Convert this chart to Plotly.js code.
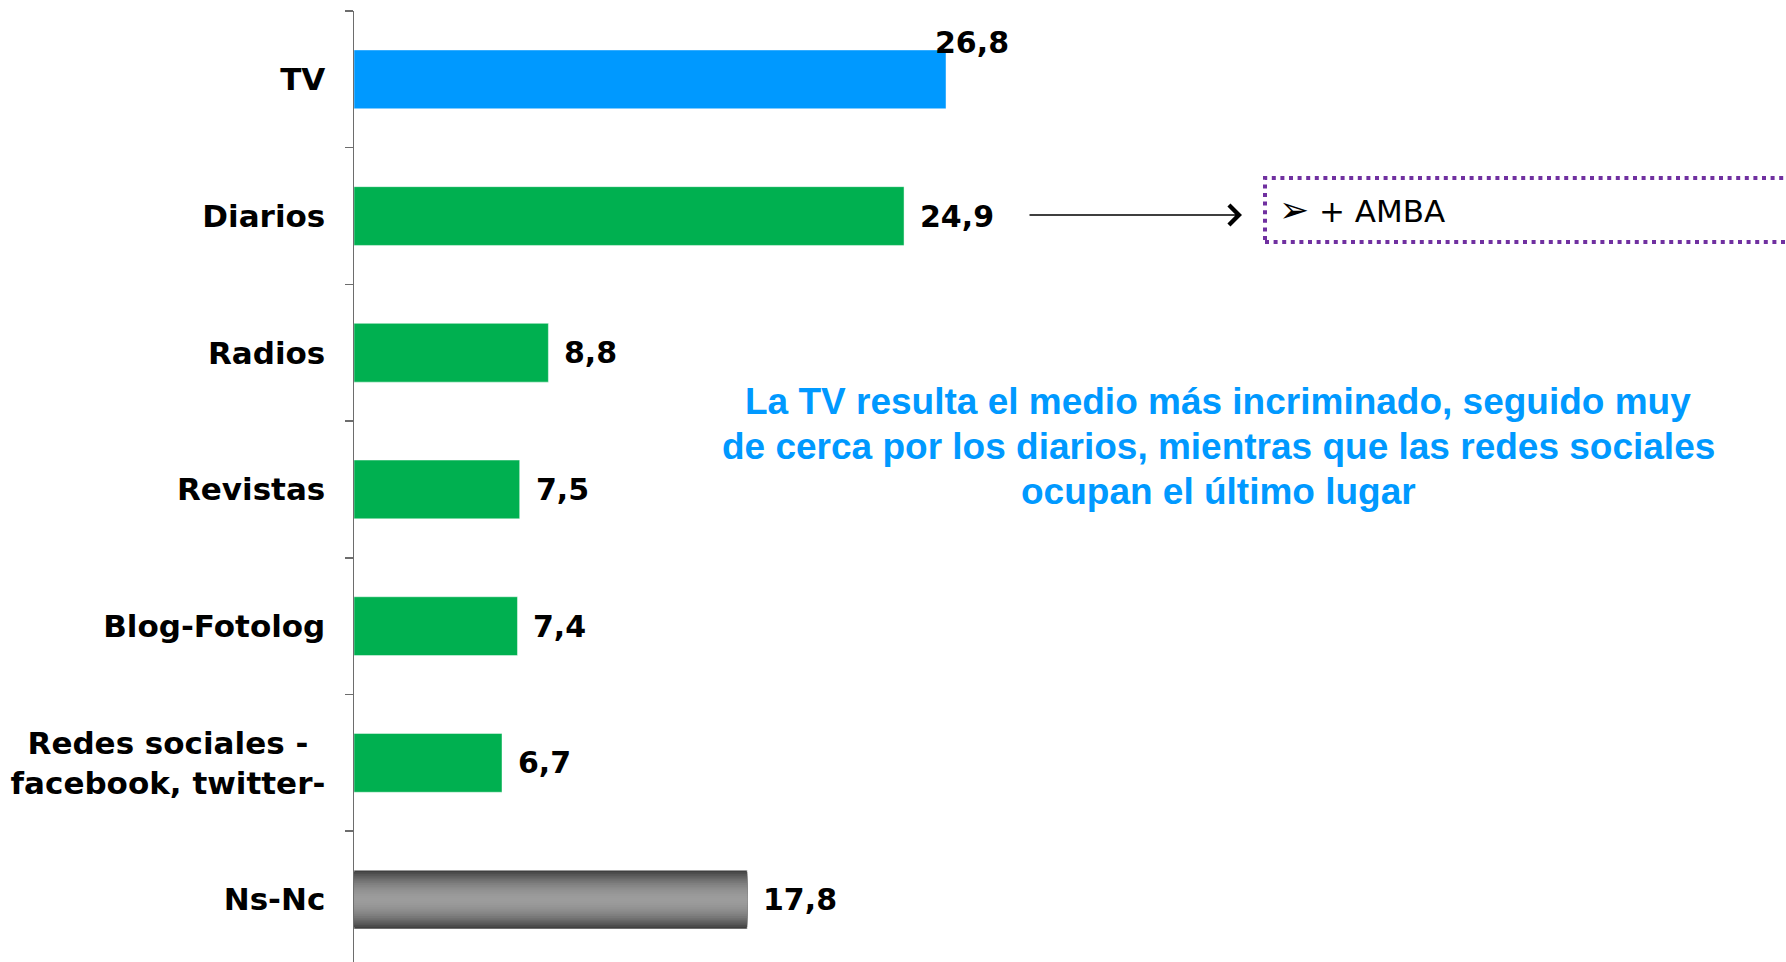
<!DOCTYPE html>
<html>
<head>
<meta charset="utf-8">
<script src="https://cdn.plot.ly/plotly-3.0.1.min.js"></script>
<style>html,body{margin:0;padding:0;background:#fff;}#chart{width:1786px;height:962px;}</style>
</head>
<body>
<div id="chart"></div>
<script>
// ---- data ----
const categories = ['TV', 'Diarios', 'Radios', 'Revistas', 'Blog-Fotolog',
  'Redes sociales -\u00a0\u2009<br>facebook, twitter-', 'Ns-Nc'];
const values = [26.8, 24.9, 8.8, 7.5, 7.4, 6.7, 17.8];
const barColors = ['#0099FF', '#00B050', '#00B050', '#00B050', '#00B050', '#00B050', '#404040'];
const noteLines = [
  'La TV resulta el medio más incriminado, seguido muy',
  'de cerca por los diarios, mientras que las redes sociales',
  'ocupan el último lugar'
];
const boxBullet = '\u27A2';
const boxLabel = '+ AMBA';

// ---- layout helpers ----
const W = 1786, H = 962, L = 354, T = 11;
const plotW = W - L, plotH = H - T;
const pxPerUnit = 22.09;
const bandPx = 136.7;
const barW = 0.43;
const px = x => (x - L) / plotW;
const py = y => 1 - (y - T) / plotH;
const fmt = v => v.toFixed(1).replace('.', ',');

const traces = [{
  type: 'bar', orientation: 'h',
  y: categories, x: values,
  width: barW,
  marker: {color: barColors, line: {width: 1, color: 'rgba(255,255,255,0.45)'}},
  hoverinfo: 'skip'
}];

// gradient for Ns-Nc bar (overlaid narrower, lighter bars: dark edges, light centre)
const nsIdx = categories.indexOf('Ns-Nc');
const steps = 16, dark = 0x40, light = 0x9c;
for (let k = 1; k < steps; k++) {
  const d = 1 - k / steps;              // relative distance from centre
  const g = Math.round(dark + (light - dark) * (1 - d * d));
  const hex = g.toString(16).padStart(2, '0');
  traces.push({
    type: 'bar', orientation: 'h',
    y: [categories[nsIdx]], x: [values[nsIdx]],
    width: barW * d, marker: {color: '#' + hex + hex + hex}, hoverinfo: 'skip'
  });
}

const annotations = [];
values.forEach((v, i) => {
  const isTop = i === 0;
  annotations.push({
    x: v, y: categories[i], xref: 'x', yref: 'y',
    text: fmt(v), showarrow: false,
    xanchor: 'left', yanchor: 'middle',
    xshift: isTop ? -13 : 14, yshift: isTop ? 37 : 0,
    font: {family: 'DejaVu Sans', size: 30, weight: 'bold', color: '#000'}
  });
});

// comment text
const noteY = [401, 446, 491];
noteLines.forEach((t, i) => annotations.push({
  x: px(1218), y: py(noteY[i]), xref: 'paper', yref: 'paper',
  text: t, showarrow: false, xanchor: 'center', yanchor: 'middle',
  font: {family: 'Liberation Sans, Arial', size: 37, weight: 'bold', color: '#0099FF'}
}));

// arrow
annotations.push({
  x: px(1242), y: py(215), xref: 'paper', yref: 'paper',
  ax: -(1242 - 1028), ay: 0, axref: 'pixel', ayref: 'pixel',
  text: '', showarrow: true, arrowhead: 4, arrowsize: 2.4, arrowwidth: 1.6, arrowcolor: '#000'
});
// box text
annotations.push({
  x: px(1277), y: py(209), xref: 'paper', yref: 'paper',
  text: '<span style="font-size:36px">' + boxBullet + '</span> ' + boxLabel,
  showarrow: false, xanchor: 'left', yanchor: 'middle',
  font: {family: 'DejaVu Sans', size: 31, color: '#000'}
});

const layout = {
  width: W, height: H,
  margin: {l: L, r: 0, t: T, b: 0, pad: 0},
  paper_bgcolor: '#fff', plot_bgcolor: '#fff',
  barmode: 'overlay', showlegend: false,
  xaxis: {visible: false, range: [0, plotW / pxPerUnit], fixedrange: true},
  yaxis: {
    type: 'category', categoryorder: 'array', categoryarray: categories,
    range: [-0.5 + plotH / bandPx, -0.5], autorange: false,
    showline: true, linecolor: '#6d6d6d', linewidth: 1.5,
    ticks: 'outside', tickson: 'boundaries', ticklen: 8, tickcolor: '#6d6d6d', tickwidth: 1.5,
    showgrid: false, zeroline: false, automargin: false,
    ticklabelstandoff: 21,
    tickfont: {family: 'DejaVu Sans', size: 31, weight: 'bold', color: '#000'}
  },
  annotations: annotations,
  shapes: [{
    type: 'rect', xref: 'paper', yref: 'paper',
    x0: px(1265), x1: 1.05, y0: py(242), y1: py(178),
    line: {color: '#7030A0', width: 4, dash: '4px,4.6px'}, fillcolor: 'rgba(0,0,0,0)'
  }]
};

Plotly.newPlot('chart', traces, layout, {displayModeBar: false, staticPlot: true});
</script>
</body>
</html>
